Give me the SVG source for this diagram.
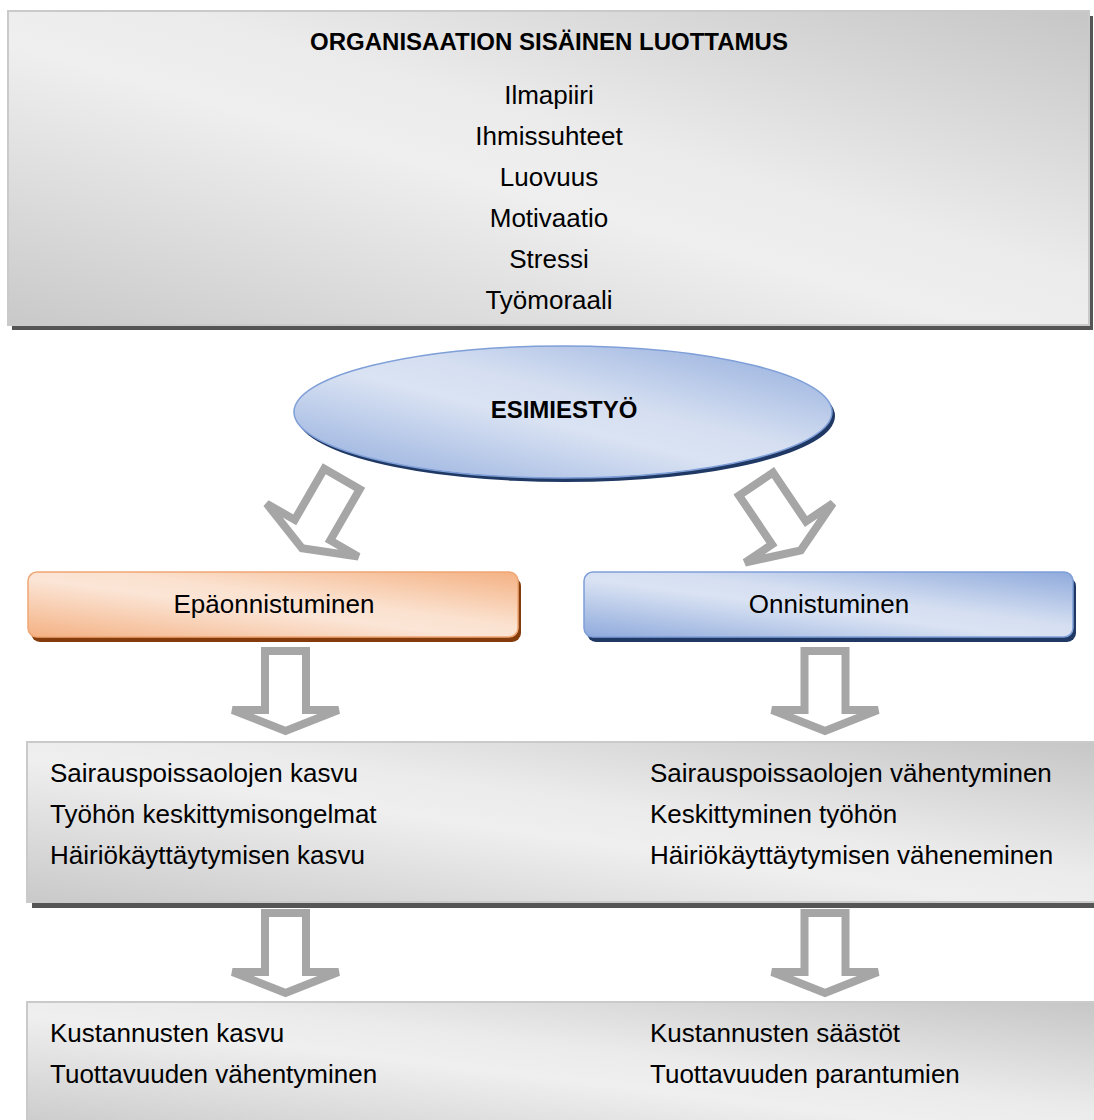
<svg xmlns="http://www.w3.org/2000/svg" width="1094" height="1120" viewBox="0 0 1094 1120">
  <defs>
    <linearGradient id="gGray" x1="0" y1="1" x2="1" y2="0">
      <stop offset="0" stop-color="#c9c9c9"/>
      <stop offset="0.45" stop-color="#efefef"/>
      <stop offset="0.58" stop-color="#ebebeb"/>
      <stop offset="1" stop-color="#c6c6c6"/>
    </linearGradient>
    <linearGradient id="gOrange" x1="0" y1="1" x2="1" y2="0">
      <stop offset="0" stop-color="#f4b183"/>
      <stop offset="0.45" stop-color="#fbe5d6"/>
      <stop offset="0.58" stop-color="#fbe2d0"/>
      <stop offset="1" stop-color="#f4b183"/>
    </linearGradient>
    <linearGradient id="gBlue" x1="0" y1="1" x2="1" y2="0">
      <stop offset="0" stop-color="#8faadc"/>
      <stop offset="0.45" stop-color="#dae3f3"/>
      <stop offset="0.58" stop-color="#d5dff1"/>
      <stop offset="1" stop-color="#8faadc"/>
    </linearGradient>
    <path id="arrow" d="M-20.5,0 L20.5,0 L20.5,59 L53,59 L0,80 L-53,59 L-20.5,59 Z"/>
  </defs>
  <style>
    text { font-family: "Liberation Sans", Arial, sans-serif; fill: #000; }
    .t { font-size: 26px; }
    .c { text-anchor: middle; }
    .b { font-weight: bold; font-size: 24px; }
    .arr { fill: #fff; stroke: #a6a6a6; stroke-width: 8; }
    .graybox { fill: url(#gGray); stroke: #cacaca; stroke-width: 2; }
    .shadow { fill: #555; }
  </style>

  <g id="top-box">
    <rect class="shadow" x="12" y="16" width="1081" height="314"/>
    <rect class="graybox" x="8" y="11" width="1081" height="314"/>
    <text class="b c" x="549" y="50">ORGANISAATION SISÄINEN LUOTTAMUS</text>
    <text class="t c" x="549" y="104">Ilmapiiri</text>
    <text class="t c" x="549" y="145">Ihmissuhteet</text>
    <text class="t c" x="549" y="186">Luovuus</text>
    <text class="t c" x="549" y="227">Motivaatio</text>
    <text class="t c" x="549" y="268">Stressi</text>
    <text class="t c" x="549" y="309">Työmoraali</text>
  </g>

  <g id="connectors">
    <use href="#arrow" class="arr" transform="translate(342,479) rotate(30)"/>
    <use href="#arrow" class="arr" transform="translate(756,484) rotate(-34)"/>
    <use href="#arrow" class="arr" transform="translate(285.5,651)"/>
    <use href="#arrow" class="arr" transform="translate(825,651)"/>
    <use href="#arrow" class="arr" transform="translate(285.5,913)"/>
    <use href="#arrow" class="arr" transform="translate(825,913)"/>
  </g>

  <g id="esimiestyo">
    <ellipse cx="566" cy="416" rx="269" ry="66" fill="#1f3864"/>
    <ellipse cx="563" cy="412" rx="269" ry="66" fill="url(#gBlue)" stroke="#7f9fd8" stroke-width="1.5"/>
    <text class="b c" x="564" y="418">ESIMIESTYÖ</text>
  </g>

  <g id="epaonnistuminen">
    <rect x="31" y="577" width="490" height="65" rx="9" fill="#843c0c"/>
    <rect x="28" y="572" width="490" height="65" rx="9" fill="url(#gOrange)" stroke="#f0a774" stroke-width="1.5"/>
    <text class="t c" x="274" y="613">Epäonnistuminen</text>
  </g>

  <g id="onnistuminen">
    <rect x="587" y="577" width="489" height="65" rx="9" fill="#203864"/>
    <rect x="584" y="572" width="489" height="65" rx="9" fill="url(#gBlue)" stroke="#7f9fd8" stroke-width="1.5"/>
    <text class="t c" x="829" y="613">Onnistuminen</text>
  </g>

  <g id="effects-box">
    <rect class="shadow" x="32" y="748" width="1070" height="160"/>
    <rect class="graybox" x="27" y="742" width="1075" height="160"/>
    <text class="t" x="50" y="782">Sairauspoissaolojen kasvu</text>
    <text class="t" x="50" y="823">Työhön keskittymisongelmat</text>
    <text class="t" x="50" y="864">Häiriökäyttäytymisen kasvu</text>
    <text class="t" x="650" y="782">Sairauspoissaolojen vähentyminen</text>
    <text class="t" x="650" y="823">Keskittyminen työhön</text>
    <text class="t" x="650" y="864">Häiriökäyttäytymisen väheneminen</text>
  </g>

  <g id="results-box">
    <rect class="graybox" x="27" y="1002" width="1075" height="130"/>
    <text class="t" x="50" y="1042">Kustannusten kasvu</text>
    <text class="t" x="50" y="1083">Tuottavuuden vähentyminen</text>
    <text class="t" x="650" y="1042">Kustannusten säästöt</text>
    <text class="t" x="650" y="1083">Tuottavuuden parantumien</text>
  </g>
</svg>
